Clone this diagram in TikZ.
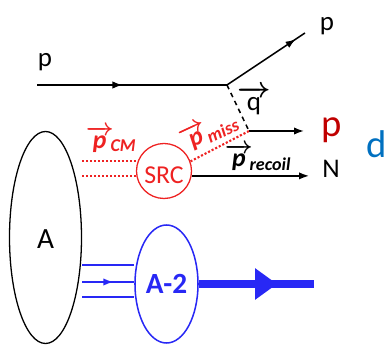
\documentclass[tikz,border=0pt]{standalone}
\usepackage{fontspec}
\usepackage{amsmath}
\setmainfont{Carlito}
\usetikzlibrary{arrows.meta,shapes.geometric,decorations.markings}
\definecolor{srcred}{RGB}{238,34,34}
\definecolor{pred}{RGB}{192,0,0}
\definecolor{dblue}{RGB}{0,112,192}
\definecolor{nblue}{RGB}{40,40,245}
\newcommand{\mom}[2]{$\overrightarrow{\text{#1}}_{\mkern-3mu\text{#2}}$}

\begin{document}
\begin{tikzpicture}[x=0.03cm,y=-0.03cm,
  ln/.style={line width=1.3pt},
  midarrow/.style={postaction={decorate},decoration={markings,mark=at position #1 with {\arrow{Latex[length=3mm,width=2.2mm]}}}},
  lbl/.style={font=\fontsize{23}{25}\selectfont},
  momlbl/.style={inner sep=0.5pt,font=\fontsize{22}{24}\selectfont\bfseries\itshape\boldmath},
  reddot/.style={srcred,line width=1.8pt,dash pattern=on 1.8pt off 1.6pt},
  bline/.style={nblue,line width=1.4pt}]
\useasboundingbox (0,0) rectangle (387,346);
% scattering vertex
\coordinate (pin) at (37,85); \coordinate (v) at (227,85); \coordinate (pout) at (305,33);
\coordinate (kink) at (249,131); \coordinate (pend) at (304,131);
\coordinate (nend) at (309,176); \coordinate (out) at (314,282);
\draw[ln,midarrow=0.45] (pin) -- (v);
\draw[ln,midarrow=0.88] (v) -- (pout);
\draw[ln,dash pattern=on 4pt off 3.5pt] (v) -- (kink);
\draw[ln,-{Latex[length=3mm,width=2.2mm]}] (kink) -- (pend);
\node[lbl,anchor=base] (pinlbl) at (45,67) {p};
\node[lbl,anchor=base] (poutlbl) at (327,31) {p};
\node[lbl,anchor=base,inner sep=0.5pt] (qlbl) at (254,111) {$\boldmath\overrightarrow{\text{q}}$};
\node[anchor=base,text=pred,font=\fontsize{33}{35}\selectfont] (redp) at (332,137) {p};
\node[anchor=base,text=dblue,font=\fontsize{33}{35}\selectfont] (dlbl) at (377,158) {d};
% nucleus, pair and residual
\node[ellipse,draw=black,line width=1.1pt,minimum width=2.16cm,minimum height=6.36cm,inner sep=0,font=\fontsize{25}{27}\selectfont,text height=19pt,text depth=0pt] (A) at (45.5,237.5) {A};
\node[circle,draw=srcred,line width=1.1pt,minimum size=1.65cm,inner sep=0,text=srcred,font=\fontsize{22}{24}\selectfont,text height=22pt,text depth=0pt] (src) at (164,171) {SRC};
\node[ellipse,draw=nblue,line width=1.3pt,minimum width=1.89cm,minimum height=3.54cm,inner sep=0,text=nblue,font=\fontsize{25}{27}\selectfont\bfseries] (A2) at (166.5,284) {A-2};
\draw[reddot] (A.east |- src.160) -- (src.160);
\draw[reddot] (A.east |- src.190) -- (src.190);
\draw[reddot] (src.20) -- (kink);
\draw[ln,-{Latex[length=3mm,width=2.2mm]}] (src.-10) -- (src.-10 -| nend);
\node[lbl,anchor=base] (nlbl) at (331,178) {N};
\node[momlbl,text=srcred] (cm) at (111,139) {\mom{p}{CM}};
\node[momlbl,text=srcred,rotate=25] (miss) at (209,130) {\mom{p}{miss}};
\node[momlbl] (recoil) at (258,157) {\mom{p}{recoil}};
\foreach \yy in {265,297} \draw[bline] (A.east |- 0,\yy) -- (A2.west |- 0,\yy);
\draw[bline,midarrow=0.6] (A.east |- 0,282) -- (A2.west |- 0,282);
\draw[nblue,line width=7pt,postaction={decorate},decoration={markings,mark=at position 0.68 with {\arrow{Triangle[length=0.66cm,width=0.9cm]}}}] (A2.east) -- (A2.east -| out);
\end{tikzpicture}
\end{document}
